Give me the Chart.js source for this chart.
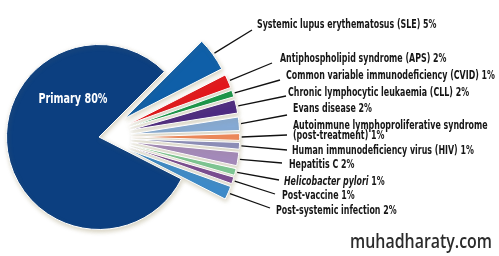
<!DOCTYPE html>
<html>
<head>
<meta charset="utf-8">
<script src="https://cdn.jsdelivr.net/npm/chart.js@4.4.1/dist/chart.umd.min.js"></script>
<style>
body { margin: 0; background: #fff; }
</style>
</head>
<body>
<canvas id="mycanvas" width="499" height="256"></canvas>
<script>
// data, clockwise from the top of the exploded fan
var categories = [
	'Systemic lupus erythematosus (SLE)',
	'Antiphospholipid syndrome (APS)',
	'Common variable immunodeficiency (CVID)',
	'Chronic lymphocytic leukaemia (CLL)',
	'Evans disease',
	'Autoimmune lymphoproliferative syndrome\n(post-treatment)',
	'Human immunodeficiency virus (HIV)',
	'Hepatitis C',
	'Helicobacter pylori',
	'Post-vaccine',
	'Post-systemic infection',
	'Primary'
];
var percents = [5, 2, 1, 2, 2, 1, 1, 2, 1, 1, 2, 80];
var colors = [
	'#0f5fa8', '#e3171c', '#17974a', '#4d2a82', '#86aad5', '#f2895c',
	'#8d8fbe', '#a48abb', '#7dc996', '#7a4b94', '#3d8bca', '#0c3f80'
];
var italicNames = ['Helicobacter pylori'];

// label text start / leader line end, for the small slices
var labelPos = [[257,25],[280,59],[286,76],[288,93],[293,109],[293,126],[292,151],[289,165],[284,182],[282,196],[276,211]];
var lineEnd = [[252,30],[272,63],[280,80],[286,96],[287,115],[287,135],[287,150],[282,163],[279,180],[275,194],[270,208]];

var FONT = '"Liberation Sans Narrow", "DejaVu Sans Condensed", "Liberation Sans", sans-serif';

var explode = {
	id: 'explode',
	afterDatasetsUpdate: function(chart) {
		var arcs = chart.getDatasetMeta(0).data;
		var last = arcs.length - 1;
		var R = arcs[last].outerRadius;
		for (var i = 0; i < last; i++) {
			var a = arcs[i];
			var mid = (a.startAngle + a.endAngle) / 2;
			a.x += Math.cos(mid) * 32;
			a.y += Math.sin(mid) * 32;
			a.outerRadius = R * 1.175;
		}
	},
	beforeDatasetsDraw: function(chart) {
		var c = chart.ctx;
		c.save();
		c.shadowColor = 'rgba(140,130,80,0.35)';
		c.shadowBlur = 4;
		c.shadowOffsetX = 1;
		c.shadowOffsetY = 2;
	},
	afterDatasetsDraw: function(chart) {
		chart.ctx.restore();
	}
};

var labels = {
	id: 'labels',
	afterDraw: function(chart) {
		var ctx = chart.ctx;
		var arcs = chart.getDatasetMeta(0).data;
		var last = arcs.length - 1;
		ctx.save();

		// horizontal squeeze so the text matches the condensed face of the original
		ctx.font = 'bold 13px ' + FONT;
		var w = ctx.measureText('Common variable immunodeficiency (CVID) 1%').width;
		var sx = 209 / w;

		for (var i = 0; i < last; i++) {
			var a = arcs[i];
			var mid = (a.startAngle + a.endAngle) / 2;
			var r = a.outerRadius + 2;
			ctx.beginPath();
			ctx.moveTo(a.x + Math.cos(mid) * r, a.y + Math.sin(mid) * r);
			ctx.lineTo(lineEnd[i][0], lineEnd[i][1]);
			ctx.strokeStyle = '#111';
			ctx.lineWidth = 1.3;
			ctx.stroke();

			var lines = categories[i].split('\n');
			lines[lines.length - 1] += ' ' + percents[i] + '%';
			ctx.fillStyle = '#161616';
			ctx.textBaseline = 'middle';
			for (var k = 0; k < lines.length; k++) {
				ctx.save();
				ctx.translate(labelPos[i][0], labelPos[i][1] + k * 9.5);
				ctx.scale(sx, 1);
				if (italicNames.indexOf(categories[i]) >= 0) {
					ctx.font = 'italic bold 13px ' + FONT;
					ctx.fillText(categories[i], 0, 0);
					var iw = ctx.measureText(categories[i]).width;
					ctx.font = 'bold 13px ' + FONT;
					ctx.fillText(' ' + percents[i] + '%', iw, 0);
				} else {
					ctx.font = 'bold 13px ' + FONT;
					ctx.fillText(lines[k], 0, 0);
				}
				ctx.restore();
			}
		}

		// label inside the big slice
		ctx.save();
		ctx.fillStyle = '#fff';
		ctx.font = 'bold 14px ' + FONT;
		ctx.textBaseline = 'middle';
		ctx.textAlign = 'center';
		ctx.translate(73, 99);
		var txt = categories[last] + ' ' + percents[last] + '%';
		ctx.scale(69 / ctx.measureText(txt).width, 1);
		ctx.fillText(txt, 0, 0);
		ctx.restore();

		// watermark
		ctx.save();
		ctx.fillStyle = '#2b2b2b';
		ctx.font = '600 19px "Open Sans", "DejaVu Sans", sans-serif';
		ctx.textBaseline = 'middle';
		var mw = ctx.measureText('muhadharaty.com').width;
		ctx.translate(350, 243);
		ctx.scale(142 / mw, 1);
		ctx.fillText('muhadharaty.com', 0, 0);
		ctx.restore();

		ctx.restore();
	}
};

var ctx = document.getElementById('mycanvas');
var pie = new Chart(ctx, {
	type: 'pie',
	data: {
		labels: categories,
		datasets: [{
			data: percents,
			backgroundColor: colors,
			borderColor: '#ffffff',
			borderWidth: 1
		}]
	},
	options: {
		responsive: false,
		animation: false,
		events: [],
		rotation: 45,
		layout: { padding: { left: 6, top: 44, right: 307, bottom: 26 } },
		plugins: {
			legend: { display: false },
			tooltip: { enabled: false }
		}
	},
	plugins: [explode, labels]
});
</script>
</body>
</html>
